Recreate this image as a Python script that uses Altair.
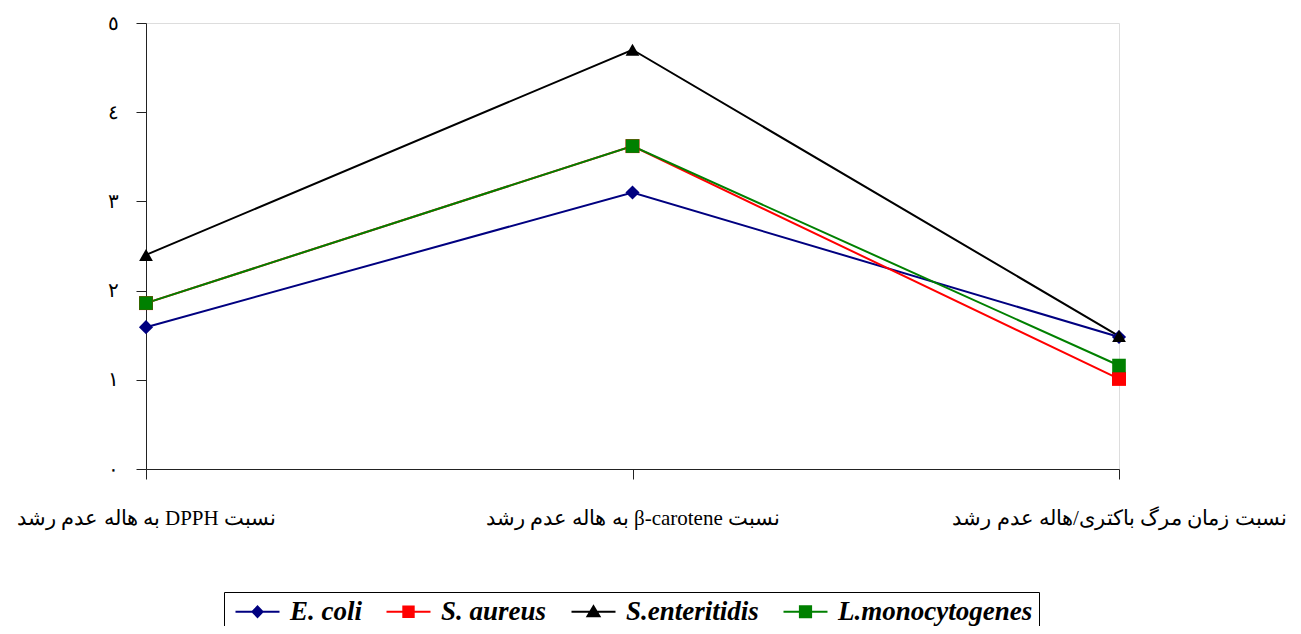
import altair as alt
import pandas as pd

# ---- data ----
categories = [
    "نسبت DPPH به هاله عدم رشد",
    "نسبت β-carotene به هاله عدم رشد",
    "نسبت زمان مرگ باکتری/هاله عدم رشد",
]
series_names = ["E. coli", "S. aureus", "S.enteritidis", "L.monocytogenes"]
e_coli = [1.59, 3.10, 1.48]
s_aureus = [1.86, 3.62, 1.01]
s_enteritidis = [2.40, 4.70, 1.49]
l_monocytogenes = [1.86, 3.62, 1.16]
y_tick_values = [0, 1, 2, 3, 4, 5]
y_tick_labels = ["٠", "١", "٢", "٣", "٤", "٥"]

# ---- styles ----
series_colors = ["#000080", "#FF0000", "#000000", "#008000"]
point_shapes = ["diamond", "square", "triangle-up", "square"]
point_sizes = [200, 185, 270, 275]
# legend symbols: a line with the marker in its middle (unit = 8px)
legend_paths = [
    "M-1,0L4.5,0M1.12,0L1.75,-0.65L2.38,0L1.75,0.65Z",
    "M-1,0L4.5,0M1.1,-0.65L2.4,-0.65L2.4,0.65L1.1,0.65Z",
    "M-1,0L4.5,0M1.75,-0.7L2.5,0.55L1.0,0.55Z",
    "M-1,0L4.5,0M1.05,-0.7L2.45,-0.7L2.45,0.7L1.05,0.7Z",
]

values = [e_coli, s_aureus, s_enteritidis, l_monocytogenes]
rows = []
for s, vals in zip(series_names, values):
    for c, v in zip(categories, vals):
        rows.append({"series": s, "category": c, "value": v})
df = pd.DataFrame(rows)

label_map = "{" + ",".join(f"'{c}':'\u202b{c}\u202c'" for c in categories) + "}"
y_label_arr = "[" + ",".join(f"'{t}'" for t in y_tick_labels) + "]"

x_enc = alt.X(
    "category:N",
    sort=categories,
    scale=alt.Scale(type="point", padding=0, domain=categories),
    axis=alt.Axis(
        title=None, labelAngle=0, labelLimit=0, labelOverlap=False, labelFlush=False,
        tickSize=10, labelPadding=28, labelFontSize=21, labelFont="Liberation Serif",
        labelColor="#000000", domainColor="#222222", tickColor="#222222",
        labelExpr=label_map + "[datum.value]",
    ),
)
y_enc = alt.Y(
    "value:Q",
    scale=alt.Scale(domain=[0, 5], nice=False, zero=True),
    axis=alt.Axis(
        title=None, values=y_tick_values, grid=False, tickSize=10, labelPadding=18,
        labelFontSize=20, labelFont="Liberation Serif", labelFontWeight="normal",
        labelColor="#000000", domainColor="#222222", tickColor="#222222",
        labelExpr=y_label_arr + "[datum.value]",
    ),
)
color_scale = alt.Scale(domain=series_names, range=series_colors)

lines = alt.Chart(df).mark_line(strokeWidth=2).encode(
    x=x_enc, y=y_enc,
    color=alt.Color("series:N", scale=color_scale, legend=None),
    detail="series:N",
)

points = alt.Chart(df).mark_point(filled=True, opacity=1, strokeWidth=0).encode(
    x=x_enc, y=y_enc,
    color=alt.Color("series:N", scale=color_scale, legend=None),
    shape=alt.Shape("series:N", scale=alt.Scale(domain=series_names, range=point_shapes), legend=None),
    size=alt.Size("series:N", scale=alt.Scale(domain=series_names, range=point_sizes), legend=None),
)

def leg():
    return alt.Legend(
        title=None, orient="none", legendX=78, legendY=569, direction="horizontal",
        columns=4, strokeColor="#000000", padding=6, symbolSize=256,
        symbolStrokeWidth=2, symbolOpacity=1, labelFont="Liberation Serif",
        labelFontSize=27, labelFontStyle="italic", labelFontWeight="bold",
        labelColor="#000000", labelOffset=33, columnPadding=19, labelLimit=0,
    )

legend_layer = alt.Chart(df).transform_filter("datum.value < 0").mark_point(
    filled=True, opacity=1, strokeWidth=2
).encode(
    fill=alt.Fill("series:N", scale=alt.Scale(domain=series_names, range=series_colors), legend=leg()),
    stroke=alt.Stroke("series:N", scale=alt.Scale(domain=series_names, range=series_colors), legend=leg()),
    shape=alt.Shape("series:N", scale=alt.Scale(domain=series_names, range=legend_paths), legend=leg()),
)

chart = alt.layer(lines, points, legend_layer).resolve_scale(
    shape="independent", fill="independent", stroke="independent", size="independent"
).properties(
    width=973, height=446,
    autosize=alt.AutoSizeParams(type="none"),
    padding={"left": 138, "top": 15, "right": 174, "bottom": 157},
).configure_view(
    stroke="#999999", strokeWidth=1.5
).configure(background="#ffffff")

chart.save("out.html", embed_options={"renderer": "svg", "actions": False})
